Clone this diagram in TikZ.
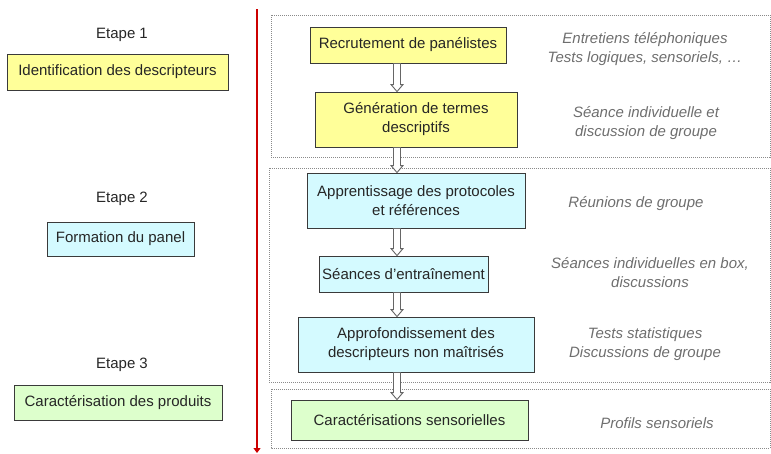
\documentclass[tikz,border=0pt]{standalone}
\usepackage{fontspec}
\setmainfont{Liberation Sans}
\usetikzlibrary{arrows.meta,calc}

\definecolor{stepyellow}{HTML}{FFFF99}
\definecolor{stepblue}{HTML}{D4FAFF}
\definecolor{stepgreen}{HTML}{DDFFCC}
\definecolor{boxline}{HTML}{3A3A3A}
\definecolor{notegray}{HTML}{6E6E6E}
\definecolor{frameline}{HTML}{8A8A8A}
\definecolor{timeline}{HTML}{CC0000}

\tikzset{
  every node/.style={font=\fontsize{15}{19}\selectfont, text=black!85},
  stagebox/.style={draw=boxline, line width=0.9pt, inner sep=0pt, align=center},
  ybox/.style={stagebox, fill=stepyellow},
  bbox/.style={stagebox, fill=stepblue},
  gbox/.style={stagebox, fill=stepgreen},
  note/.style={font=\itshape\fontsize{15}{19}\selectfont, text=notegray, align=center, anchor=base, inner sep=0pt},
  steplabel/.style={anchor=base, inner sep=0pt},
  phaseframe/.style={draw=frameline, line width=0.8pt, dash pattern=on 1pt off 1pt},
  hollowarrow/.style={draw=gray!80!black, fill=white, line width=0.9pt, line join=miter}
}

% hollow block arrow from the bottom of #1 to the top of #2, on the spine
\newcommand{\flowarrow}[2]{%
  \draw[hollowarrow] let \p1=(#1.south), \p2=(#2.north), \p3=(spine) in
    (\x3-3.5pt,\y1) -- (\x3+3.5pt,\y1) -- (\x3+3.5pt,\y2+7pt) -- (\x3+6pt,\y2+7pt)
    -- (\x3,\y2) -- (\x3-6pt,\y2+7pt) -- (\x3-3.5pt,\y2+7pt) -- cycle;}

\begin{document}
\begin{tikzpicture}[x=1pt,y=-1pt]
  \useasboundingbox (0,0) rectangle (771,453);

  % time line
  \coordinate (tltop) at (257,9);
  \coordinate (tlend) at (257,453);
  \draw[timeline, line width=1.2pt, -{Triangle[width=7pt,length=5pt]}] (tltop) -- (tlend);

  % phase frames
  \draw[phaseframe] (271,15) rectangle (770,157);
  \draw[phaseframe] (269,168) rectangle (770,382);
  \draw[phaseframe] (271,389) rectangle (770,448);

  % left column: steps
  \node[steplabel] (e1) at (122,38) {Etape 1};
  \node[ybox, minimum width=221, minimum height=36] (s1) at (117.5,72) {Identification des descripteurs};
  \node[steplabel] (e2) at (122,202) {Etape 2};
  \node[bbox, minimum width=147, minimum height=34] (s2) at (120.5,239) {Formation du panel};
  \node[steplabel] (e3) at (122,368) {Etape 3};
  \node[gbox, minimum width=208, minimum height=35] (s3) at (118,402.5) {Caractérisation des produits};

  % central flow
  \coordinate (spine) at (397,0);
  \node[ybox, minimum width=196, minimum height=36] (rec) at (408,45) {Recrutement de panélistes};
  \node[ybox, minimum width=202, minimum height=55] (gen) at (416,119.5) {Génération de termes\\descriptifs};
  \node[bbox, minimum width=218, minimum height=55] (app) at (416,200.5) {Apprentissage des protocoles\\et références};
  \node[bbox, minimum width=169, minimum height=36] (ent) at (403.5,274) {Séances d'entraînement};
  \node[bbox, minimum width=236, minimum height=55] (apf) at (416,344.5) {Approfondissement des\\descripteurs non maîtrisés};
  \node[gbox, minimum width=237, minimum height=40] (car) at (409.5,420) {Caractérisations sensorielles};

  \flowarrow{rec}{gen}
  \flowarrow{gen}{app}
  \flowarrow{app}{ent}
  \flowarrow{ent}{apf}
  \flowarrow{apf}{car}

  % notes on the right
  \node[note] (n1) at (645,43) {Entretiens téléphoniques};
  \node[note] (n1b) at (645,62) {Tests logiques, sensoriels, \dots};
  \node[note] (n2) at (646,117) {Séance individuelle et};
  \node[note] (n2b) at (646,136) {discussion de groupe};
  \node[note] (n3) at (636,207) {Réunions de groupe};
  \node[note] (n4) at (650,268) {Séances individuelles en box,};
  \node[note] (n4b) at (650,287) {discussions};
  \node[note] (n5) at (645,338) {Tests statistiques};
  \node[note] (n5b) at (645,357) {Discussions de groupe};
  \node[note] (n6) at (657,428) {Profils sensoriels};
\end{tikzpicture}
\end{document}
